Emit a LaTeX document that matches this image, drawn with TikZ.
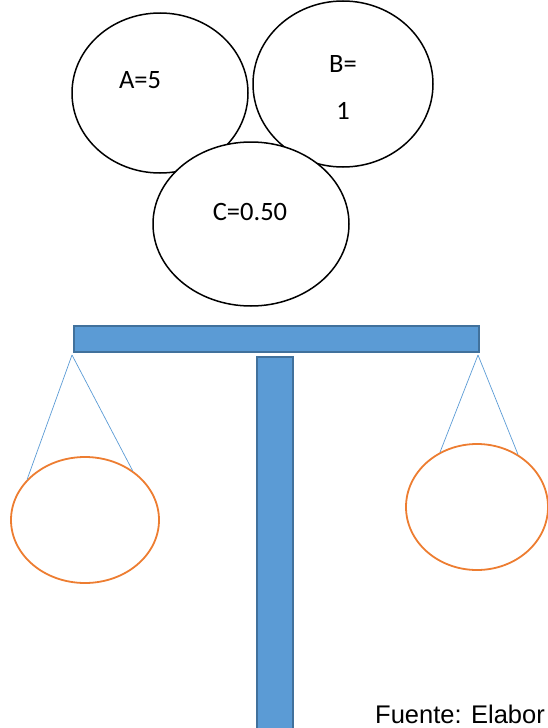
\documentclass[tikz,border=0pt]{standalone}
\usepackage{fontspec}
\setmainfont{Carlito}
\newfontfamily\arialfont{Liberation Sans}
\usetikzlibrary{shapes.geometric,positioning}

\definecolor{beamblue}{HTML}{5B9BD5}
\definecolor{beamedge}{HTML}{41719C}
\definecolor{panorange}{HTML}{ED7D31}

\tikzset{
  bubble/.style={draw=black, line width=1.5pt, ellipse, fill=white, inner sep=0pt},
  pan/.style={draw=panorange, line width=1.8pt, ellipse, inner sep=0pt},
  beam/.style={draw=beamedge, fill=beamblue, line width=1.2pt, inner sep=0pt},
  cord/.style={draw=beamblue, line width=0.7pt},
  val/.style={font=\fontsize{26.5}{47}\selectfont, align=center, inner sep=0pt},
}

\begin{document}
\begin{tikzpicture}[x=1pt, y=-1pt]
                \useasboundingbox (0,0) rectangle (548,728);

                % the three values
                \node[bubble, minimum width=176, minimum height=160] (a) at (160,93) {};
                \node[bubble, minimum width=180, minimum height=166] (b) at (343,84) {};
                \node[bubble, minimum width=196, minimum height=164] (c) at (251,224) {};
                \node[val] (aval) at (140,80) {A=5};
                \node[val] (bval) at (343,87) {B=\\1};
                \node[val] (cval) at (250,212) {C=0.50};

                % balance
                \node[beam, minimum width=36, minimum height=376] (post) at (275,545) {};
                \node[beam, minimum width=405, minimum height=26] (bar) at (276.5,339) {};

                \node[pan, minimum width=148, minimum height=126] (lpan) at (85,520) {};
                \node[pan, minimum width=142, minimum height=126] (rpan) at (477,507) {};

                \coordinate (lhook) at (72,355);
                \coordinate (rhook) at (478,355);
                \draw[cord] (lhook) -- (lpan.145);
                \draw[cord] (lhook) -- (lpan.46);
                \draw[cord] (rhook) -- (rpan.124);
                \draw[cord] (rhook) -- (rpan.52);

                \node[anchor=base west, inner sep=0pt, font=\arialfont\fontsize{25.5}{30}\selectfont] (src) at (375,723) {Fuente: Elabor};
            \end{tikzpicture}
\end{document}
